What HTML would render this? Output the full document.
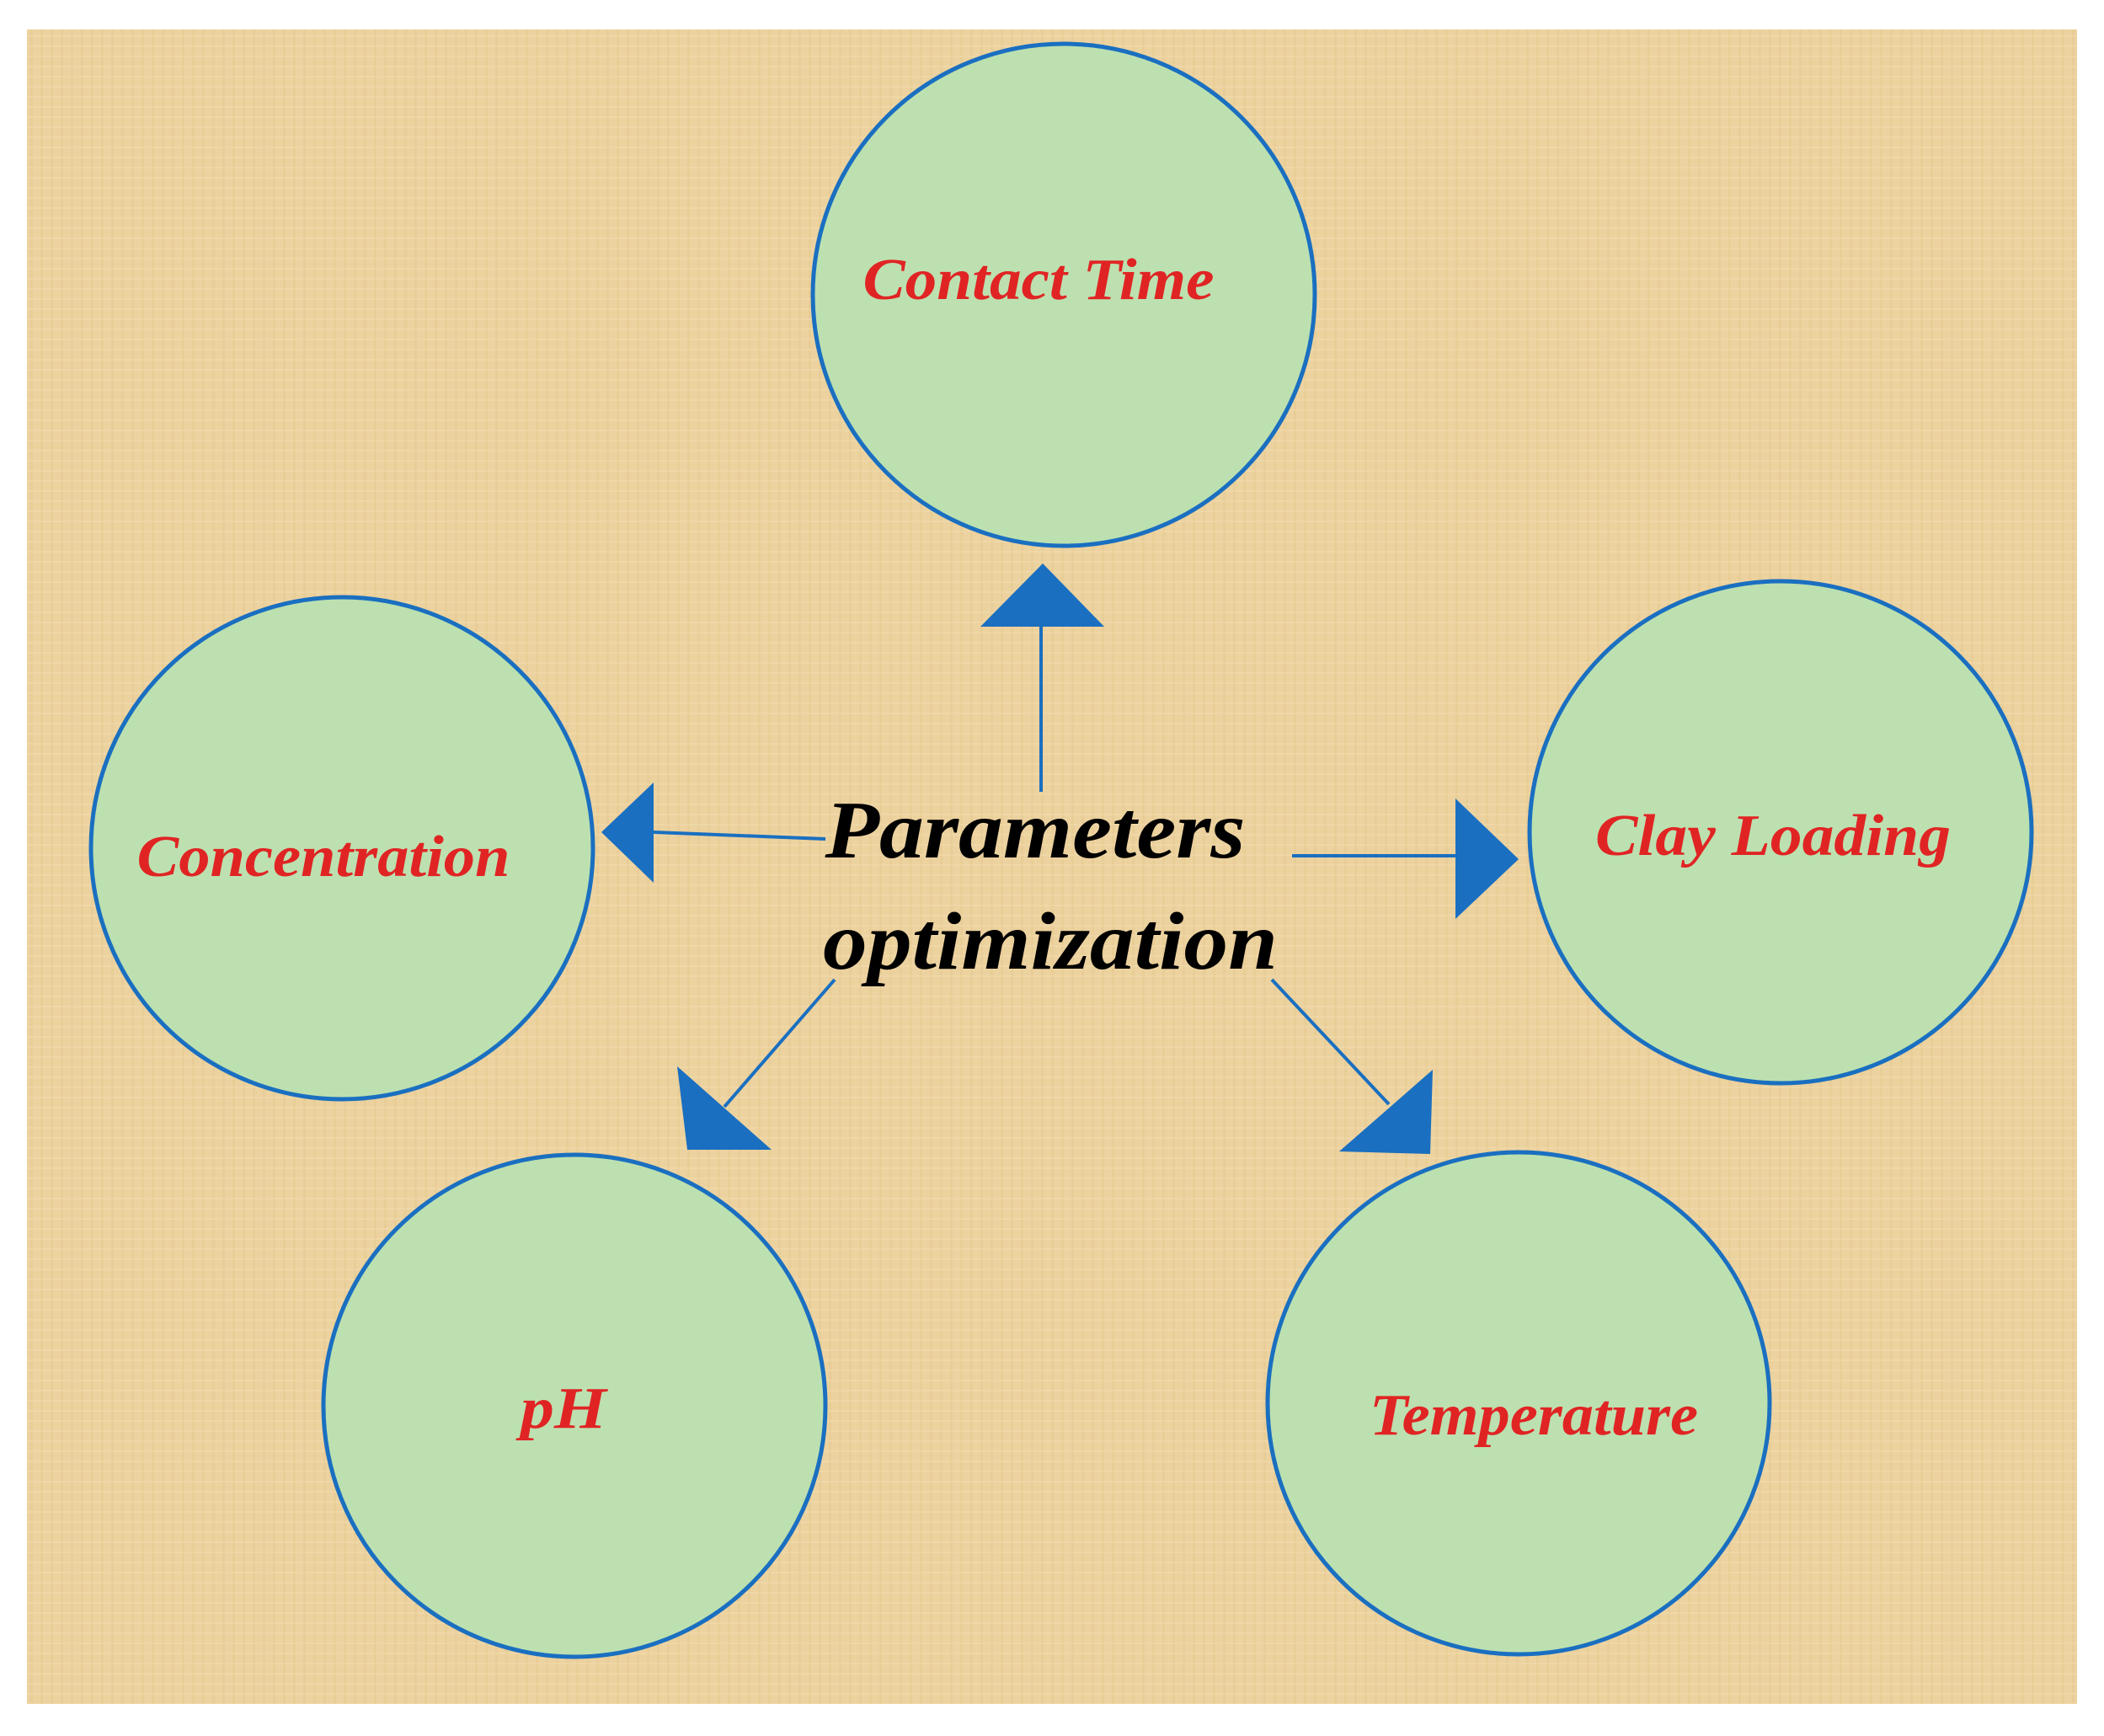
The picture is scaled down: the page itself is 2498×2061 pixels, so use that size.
<!DOCTYPE html>
<html><head><meta charset="utf-8"><style>
html,body{margin:0;padding:0;background:#fff;}
svg{display:block;}
</style></head><body>
<svg width="2498" height="2061" viewBox="0 0 2498 2061" xmlns="http://www.w3.org/2000/svg">
<defs>
<pattern id="w" width="12" height="12" patternUnits="userSpaceOnUse">
<rect width="12" height="12" fill="#ecd29f"/>
<rect x="0" y="0" width="3" height="12" fill="#e6c890" opacity="0.5"/>
<rect x="0" y="6" width="12" height="2" fill="#f2dcaf" opacity="0.5"/>
</pattern>
</defs>
<rect x="32" y="35" width="2434" height="1988" fill="url(#w)"/>
<g fill="#bde0b0" stroke="#1a6fc0" stroke-width="5">
<circle cx="1263" cy="350" r="298"/>
<circle cx="406" cy="1007" r="298"/>
<circle cx="2114" cy="988" r="298"/>
<circle cx="682" cy="1669" r="298"/>
<circle cx="1803" cy="1666" r="298"/>
</g>
<g stroke="#1a6fc0" stroke-width="4" fill="none">
<line x1="1236" y1="940" x2="1236" y2="741"/>
<line x1="980" y1="996" x2="776" y2="988"/>
<line x1="1534" y1="1016" x2="1728" y2="1016"/>
<line x1="991" y1="1163" x2="860" y2="1314"/>
<line x1="1510" y1="1163" x2="1649" y2="1311"/>
</g>
<g fill="#1a6fc0">
<polygon points="1164,744 1311,744 1238,669"/>
<polygon points="714,988 776,929 776,1048"/>
<polygon points="1728,948 1728,1091 1803,1020"/>
<polygon points="804,1266 816,1365 916,1365"/>
<polygon points="1701,1270 1698,1370 1590,1367"/>
</g>
<g font-family="'Liberation Serif',serif" font-weight="bold" font-style="italic" fill="#e02424" font-size="70" text-anchor="middle" lengthAdjust="spacingAndGlyphs">
<text x="1233" y="355" textLength="417" lengthAdjust="spacingAndGlyphs">Contact Time</text>
<text x="384" y="1040" textLength="443" lengthAdjust="spacingAndGlyphs">Concentration</text>
<text x="2105" y="1015" textLength="422" lengthAdjust="spacingAndGlyphs">Clay Loading</text>
<text x="669" y="1695" textLength="102" lengthAdjust="spacingAndGlyphs">pH</text>
<text x="1821" y="1703" textLength="390" lengthAdjust="spacingAndGlyphs">Temperature</text>
</g>
<g font-family="'Liberation Serif',serif" font-weight="bold" font-style="italic" fill="#000" font-size="98" text-anchor="middle">
<text x="1229" y="1018" textLength="499" lengthAdjust="spacingAndGlyphs">Parameters</text>
<text x="1247" y="1150" textLength="540" lengthAdjust="spacingAndGlyphs">optimization</text>
</g>
</svg>
</body></html>
